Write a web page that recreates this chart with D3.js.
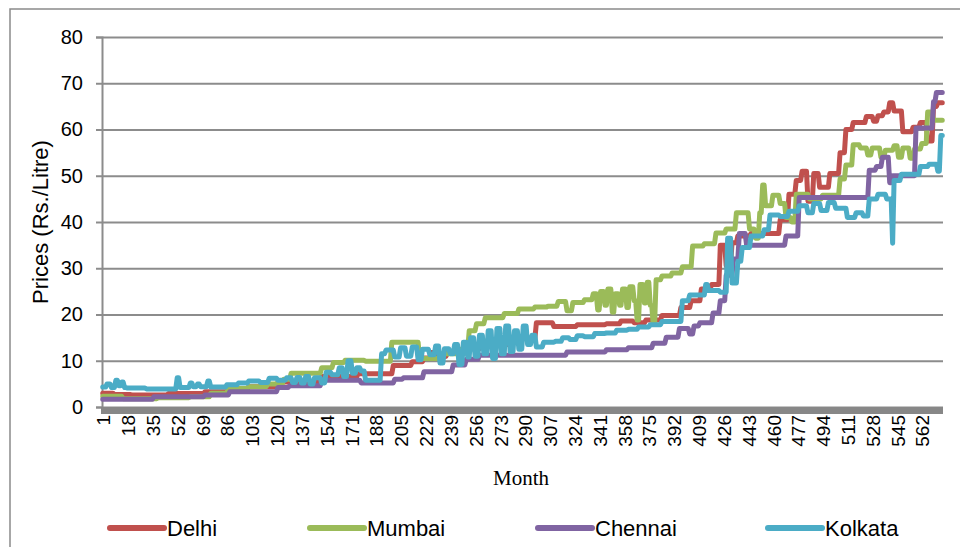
<!DOCTYPE html>
<html lang="en">
<head>
<meta charset="UTF-8">
<title>Prices (Rs./Litre) by month</title>
<script src="https://cdn.jsdelivr.net/npm/d3@7"></script>
<style>
    body { margin: 0; background: #fff; }
    #chartDiv { width: 960px; height: 547px; }
    text { font-family: "Liberation Sans", Arial, sans-serif; fill: #000; }
</style>
<script>
    // prices: [first month of the level, Rs./Litre]
    // each level holds until the next listed month (administered price revisions)
    var delhiSteps = [
        [1,3.0],[9,2.7],[21,2.6],[46,2.9],[71,3.3],[87,3.8],[101,4.4],[121,5.4],[151,6.6],[176,7.2],
        [200,9.0],[213,9.8],[221,10.6],[226,11.8],[229,10.9],[237,11.6],[250,12.6],[260,13.5],[281,14.8],
        [298,18.2],[310,17.4],[326,17.8],[346,18.0],[356,18.6],[365,18.2],[373,18.8],[384,19.8],[397,21.5],
        [404,23.0],[411,25.5],[418,26.5],[424,35.0],[428,30.5],[432,35.5],[436,37.0],[445,37.5],[465,40.5],
        [471,46.0],[476,49.0],[480,51.0],[484,44.5],[488,50.5],[492,47.5],[499,50.5],[506,55.0],[510,60.0],
        [515,61.5],[524,62.8],[529,61.8],[532,63.0],[536,63.8],[540,65.8],[543,64.0],[549,59.5],[556,60.5],
        [561,61.5],[566,57.5],[570,65.0],[573,65.8]
    ];
    var mumbaiSteps = [
        [1,2.3],[15,1.8],[39,2.0],[61,2.2],[75,3.0],[87,4.0],[101,4.4],[114,5.0],[125,6.0],[130,7.3],
        [151,8.5],[159,9.6],[167,10.1],[181,9.9],[199,14.0],[218,10.5],[232,11.5],[246,12.5],[252,16.5],
        [257,18.0],[263,19.3],[276,20.2],[286,21.2],[297,21.6],[306,21.8],[313,22.8],[319,20.8],[323,22.6],
        [331,23.2],[337,24.5],[340,21.0],[342,25.0],[345,22.0],[347,25.5],[350,20.5],[352,24.5],[355,22.0],
        [357,25.5],[360,21.5],[362,26.0],[365,23.0],[367,18.8],[369,26.5],[372,22.5],[374,27.0],[376,22.0],
        [378,18.0],[380,27.5],[384,28.3],[391,29.0],[398,30.3],[405,34.8],[413,35.3],[421,37.6],[428,38.5],
        [435,42.0],[444,38.5],[448,36.5],[451,42.0],[453,48.0],[455,43.5],[460,45.8],[465,44.0],[469,41.0],
        [473,40.0],[476,46.0],[485,45.0],[494,45.8],[506,49.3],[510,52.3],[515,56.7],[520,56.0],[525,54.5],
        [528,56.0],[534,54.0],[537,55.5],[543,56.5],[546,54.0],[549,56.0],[554,53.8],[557,55.8],[562,57.0],
        [566,63.8],[570,62.0]
    ];
    var chennaiSteps = [
        [1,1.7],[36,2.2],[71,2.6],[88,3.3],[121,4.2],[129,4.6],[151,5.8],[178,5.2],[201,6.0],[207,6.3],
        [221,7.6],[241,9.1],[250,10.3],[259,11.2],[319,11.9],[346,12.4],[361,12.8],[378,13.8],[387,15.1],
        [396,17.0],[403,15.8],[406,17.5],[410,18.2],[419,20.3],[424,23.0],[428,28.5],[433,32.0],[437,37.5],
        [442,35.0],[469,37.0],[478,45.3],[526,51.2],[531,52.0],[535,54.0],[540,48.5],[542,50.0],[558,60.3],
        [570,66.0],[572,68.0]
    ];
    var kolkataSteps = [
        [1,4.3],[4,5.0],[7,4.2],[10,5.8],[12,4.6],[14,5.4],[16,4.2],[18,4.1],[31,3.9],[52,6.3],[54,4.2],
        [61,5.2],[63,4.4],[66,5.0],[68,4.4],[73,5.6],[75,4.3],[86,4.8],[94,5.2],[101,5.6],[109,5.3],[115,6.2],
        [121,5.8],[127,6.3],[131,5.3],[134,6.4],[137,5.2],[140,6.6],[143,5.0],[146,6.3],[151,5.2],[154,7.5],
        [158,7.0],[163,8.5],[166,6.6],[169,10.0],[172,7.3],[175,8.5],[178,7.8],[181,5.8],[192,11.5],[195,12.3],
        [201,10.8],[205,12.8],[209,11.0],[213,13.0],[217,10.2],[220,12.5],[225,11.3],[229,13.2],[232,9.5],
        [235,12.6],[239,11.5],[242,13.5],[245,9.2],[248,14.0],[251,10.8],[253,15.0],[256,11.0],[259,15.5],
        [262,11.5],[265,16.5],[268,10.5],[271,17.0],[274,11.5],[277,17.5],[280,12.0],[283,16.5],[286,12.5],
        [289,17.5],[292,13.5],[295,15.5],[298,13.0],[303,14.0],[311,14.2],[316,15.0],[321,14.6],[326,15.4],
        [331,15.2],[338,15.9],[346,16.0],[353,16.6],[361,16.8],[368,17.3],[376,17.8],[384,18.5],[398,23.0],
        [403,24.2],[414,26.5],[416,25.2],[424,24.8],[429,36.5],[432,26.8],[436,31.5],[439,34.5],[445,37.0],
        [454,38.3],[458,41.5],[465,41.2],[471,42.3],[478,43.5],[484,42.0],[488,44.0],[493,42.5],[498,44.2],
        [503,43.0],[511,41.0],[517,42.0],[522,41.3],[526,45.0],[532,46.0],[538,45.0],[542,35.4],[543,49.0],
        [548,50.3],[561,52.0],[567,52.5],[573,51.0],[575,58.7]
    ];

    var nMonths = 576;
    var seriesNames = ["Delhi", "Mumbai", "Chennai", "Kolkata"];
    var seriesColors = ["#C0504D", "#9BBB59", "#8064A2", "#4BACC6"];
    var yTicks = [0, 10, 20, 30, 40, 50, 60, 70, 80];
    var xTickStep = 17;

    function expandSteps(steps) {
        var out = [];
        for (var i = 0; i < steps.length; i++) {
            var end = i < steps.length - 1 ? steps[i + 1][0] - 1 : nMonths;
            for (var m = steps[i][0]; m <= end; m++)
                out.push({month: m, price: steps[i][1]});
        }
        return out;
    }

    function drawChart() {
        var selector = "#chartDiv";
        var w0 = 960, h0 = 547;
        var left = 102, right = 943, top = 37, bottom = 407;

        var svg = d3.select(selector).append("svg:svg")
            .attr("width", w0)
            .attr("height", h0);

        svg.append("rect")
            .attr("x", 10).attr("y", 9)
            .attr("width", 980).attr("height", 580)
            .style("fill", "#fff")
            .style("stroke", "#8a8a8a")
            .style("stroke-width", 1.5);

        var months = d3.range(1, nMonths + 1);
        var x = d3.scaleBand().domain(months).range([left, right]);
        var y = d3.scaleLinear().domain([0, 80]).range([bottom, top]);
        var xc = function (m) { return x(m) + x.bandwidth() / 2; };

        // gridlines + y labels
        var yAxis = svg.append("g")
            .attr("transform", "translate(" + left + ",0)")
            .call(d3.axisLeft(y).tickValues(yTicks).tickSizeInner(-(right - left)).tickSizeOuter(0).tickPadding(19));
        yAxis.select(".domain").remove();
        yAxis.selectAll(".tick line").style("stroke", "#8c8c8c").style("stroke-width", 2);
        yAxis.selectAll(".tick text").style("font-size", "20px").style("font-family", "'Liberation Sans', Arial, sans-serif");

        var yMarks = svg.append("g")
            .attr("transform", "translate(" + left + ",0)")
            .call(d3.axisLeft(y).tickValues(yTicks).tickSize(6).tickFormat(""));
        yMarks.select(".domain").style("stroke", "#8c8c8c").style("stroke-width", 2);
        yMarks.selectAll(".tick line").style("stroke", "#8c8c8c").style("stroke-width", 2);

        // thick x axis bar
        svg.append("rect")
            .attr("x", left - 1).attr("y", bottom)
            .attr("width", right - left + 1).attr("height", 7)
            .style("fill", "#878787");

        var xTicks = months.filter(function (m) { return (m - 1) % xTickStep === 0; });
        var xAxis = svg.append("g")
            .attr("transform", "translate(0," + (bottom + 7) + ")")
            .call(d3.axisBottom(x).tickValues(xTicks).tickSize(0));
        xAxis.select(".domain").remove();
        xAxis.selectAll(".tick text")
            .style("font-size", "19px")
            .style("font-family", "'Liberation Sans', Arial, sans-serif")
            .attr("text-anchor", "end")
            .attr("transform", "rotate(-90)")
            .attr("x", -1)
            .attr("y", 1)
            .attr("dy", "0.35em");

        var line = d3.line()
            .x(function (d) { return xc(d.month); })
            .y(function (d) { return y(d.price); });

        var allSteps = [delhiSteps, mumbaiSteps, chennaiSteps, kolkataSteps];
        for (var i = 0; i < allSteps.length; i++) {
            svg.append("path")
                .datum(expandSteps(allSteps[i]))
                .attr("d", line)
                .style("fill", "none")
                .style("stroke", seriesColors[i])
                .style("stroke-width", 5)
                .style("stroke-linejoin", "round")
                .style("stroke-linecap", "round");
        }

        svg.append("text")
            .attr("transform", "translate(48,222) rotate(-90)")
            .attr("text-anchor", "middle")
            .style("font-size", "22px")
            .text("Prices (Rs./Litre)");

        svg.append("text")
            .attr("x", 521).attr("y", 485)
            .attr("text-anchor", "middle")
            .style("font-family", "'Liberation Serif', 'Times New Roman', serif")
            .style("font-size", "21px")
            .text("Month");

        // legend
        var legendX = [108, 308, 536, 766];
        var legend = svg.selectAll("g.legend")
            .data(seriesNames).enter().append("g")
            .attr("class", "legend")
            .attr("transform", function (d, i) { return "translate(" + legendX[i] + ",528)"; });
        legend.append("line")
            .attr("x1", 2).attr("x2", 56)
            .attr("y1", 0).attr("y2", 0)
            .style("stroke", function (d, i) { return seriesColors[i]; })
            .style("stroke-width", 6)
            .style("stroke-linecap", "round");
        legend.append("text")
            .attr("x", 59).attr("y", 0)
            .attr("dy", "0.35em")
            .style("font-size", "22px")
            .text(function (d) { return d; });
    }
</script>
</head>
<body onload="drawChart()">
<div id="chartDiv"></div>
</body>
</html>
